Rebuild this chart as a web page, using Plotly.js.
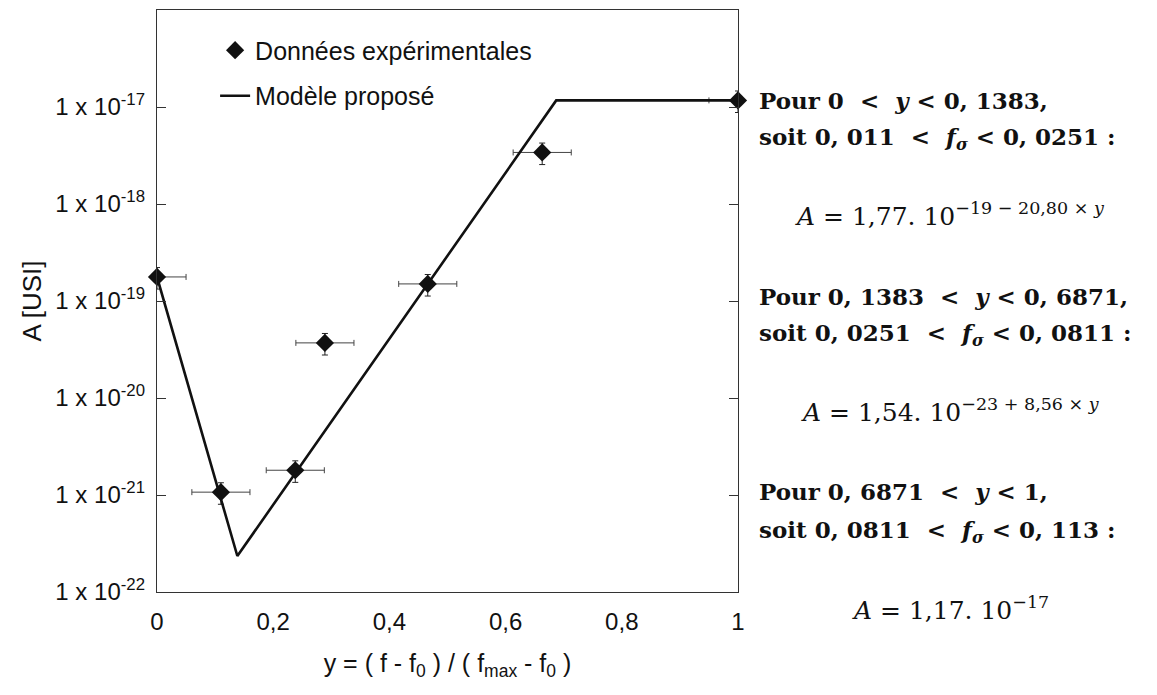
<!DOCTYPE html>
<html>
<head>
<meta charset="utf-8">
<script src="https://cdn.plot.ly/plotly-3.0.1.min.js"></script>
<style>html,body{margin:0;padding:0;background:#fff;}#chart{width:1157px;height:695px;}</style>
</head>
<body>
<div id="chart"></div>
<script>
// Experimental data
const dataX = [0, 0.110, 0.238, 0.289, 0.466, 0.663, 1.0];
const dataA = [1.77e-19, 1.07e-21, 1.8e-21, 3.7e-20, 1.5e-19, 3.4e-18, 1.17e-17];
const errXPlus  = [0.05, 0.05, 0.05, 0.05, 0.05, 0.05, 0];
const errXMinus = [0, 0.05, 0.05, 0.05, 0.05, 0.05, 0.05];
const errAPercent = 25;

// Proposed model (piecewise, breakpoints)
const modelX = [0, 0.1383, 0.6871, 1.0];
const modelA = [1.77e-19, 2.35e-22, 1.17e-17, 1.17e-17];

// Tick labels
const yTickVals = [1e-22, 1e-21, 1e-20, 1e-19, 1e-18, 1e-17];
const yTickText = ["1 x 10<sup>-22</sup>", "1 x 10<sup>-21</sup>", "1 x 10<sup>-20</sup>",
                   "1 x 10<sup>-19</sup>", "1 x 10<sup>-18</sup>", "1 x 10<sup>-17</sup>"];
const xTickVals = [0, 0.2, 0.4, 0.6, 0.8, 1];
const xTickText = ["0", "0,2", "0,4", "0,6", "0,8", "1"];

// Right-hand text
const seriesNames = ["Données expérimentales", "Modèle proposé"];
const NB = "\u00A0";
const LT = NB + NB + "<" + NB + NB;
const rightTexts = [
  "<b>Pour 0" + LT + "<i>y</i>" + NB + "< 0," + NB + "1383,</b>",
  "<b>soit 0," + NB + "011" + LT + "<i>f<sub>σ</sub></i>" + NB + "< 0," + NB + "0251 :</b>",
  "<i>A</i> = 1,77." + NB + "10<sup>−19 − 20,80 × <i>y</i></sup>",
  "<b>Pour 0," + NB + "1383" + LT + "<i>y</i>" + NB + "< 0," + NB + "6871,</b>",
  "<b>soit 0," + NB + "0251" + LT + "<i>f<sub>σ</sub></i>" + NB + "< 0," + NB + "0811 :</b>",
  "<i>A</i> = 1,54." + NB + "10<sup>−23 + 8,56 × <i>y</i></sup>",
  "<b>Pour 0," + NB + "6871" + LT + "<i>y</i>" + NB + "< 1,</b>",
  "<b>soit 0," + NB + "0811" + LT + "<i>f<sub>σ</sub></i>" + NB + "< 0," + NB + "113 :</b>",
  "<i>A</i> = 1,17." + NB + "10<sup>−17</sup>"
];
const rightY = [100, 138, 214, 296, 334, 410, 492, 531, 608];
const rightIsFormula = [false, false, true, false, false, true, false, false, true];

const traces = [
  {
    x: dataX, y: dataA, type: 'scatter', mode: 'markers', name: seriesNames[0],
    legendgroup: 'a', cliponaxis: false,
    marker: {symbol: 'diamond', size: 14, color: '#111'},
    error_x: {type: 'data', symmetric: false, array: errXPlus, arrayminus: errXMinus,
              color: '#444', thickness: 1, width: 3},
    error_y: {type: 'percent', value: errAPercent, color: '#222', thickness: 1, width: 3}
  },
  {
    x: modelX, y: modelA, type: 'scatter', mode: 'lines', name: seriesNames[1],
    legendgroup: 'b', cliponaxis: false,
    line: {color: '#111', width: 2.6}
  }
];

const annotations = rightTexts.map((t, i) => ({
  xref: 'paper', yref: 'paper',
  x: rightIsFormula[i] ? (950 - 157) / 581 : (757 - 157) / 581,
  xanchor: rightIsFormula[i] ? 'center' : 'left',
  y: (592 - rightY[i]) / 582, yanchor: 'middle',
  text: t, showarrow: false,
  font: {family: '"DejaVu Serif", "Liberation Serif", serif', size: rightIsFormula[i] ? 25 : 23, color: '#111'}
}));

const layout = {
  width: 1157, height: 695,
  margin: {l: 157, r: 419, t: 10, b: 103},
  paper_bgcolor: '#fff', plot_bgcolor: '#fff',
  font: {family: '"Liberation Sans", Arial, sans-serif', color: '#111', size: 24},
  showlegend: true,
  legend: {x: 0.1, y: 0.97, xanchor: 'left', yanchor: 'top', bgcolor: 'rgba(0,0,0,0)',
           font: {size: 25, color: '#111'}, traceorder: 'grouped', tracegroupgap: 10},
  xaxis: {
    range: [0, 1], tickvals: xTickVals, ticktext: xTickText, ticks: '',
    showgrid: false, zeroline: false, showline: true, linecolor: '#333', linewidth: 1.2, mirror: true,
    ticklabelstandoff: 8, tickfont: {size: 24},
    title: {text: 'y = ( f - f<sub>0</sub> ) / ( f<sub>max</sub> - f<sub>0</sub> )', font: {size: 25}, standoff: 20},
    automargin: false
  },
  yaxis: {
    type: 'log', range: [-22, -16], tickvals: yTickVals, ticktext: yTickText,
    ticks: 'inside', ticklen: 9, tickcolor: '#333', tickwidth: 1,
    showgrid: false, zeroline: false, showline: true, linecolor: '#333', linewidth: 1.2, mirror: 'ticks',
    ticklabelstandoff: 6, tickfont: {size: 24},
    title: {text: 'A [USI]', font: {size: 26}, standoff: 6},
    automargin: false
  },
  annotations: annotations
};

Plotly.newPlot('chart', traces, layout, {displayModeBar: false, staticPlot: true});
</script>
</body>
</html>
